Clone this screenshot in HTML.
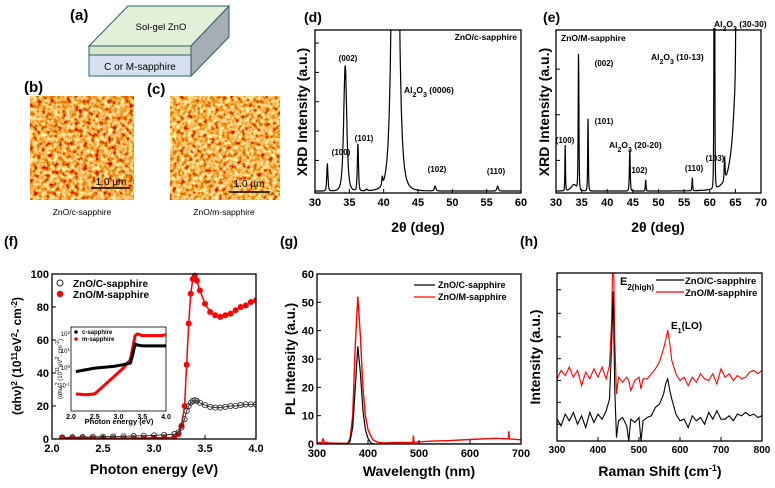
<!DOCTYPE html>
<html><head><meta charset="utf-8"><style>
body{margin:0;background:#fff}
svg{display:block;font-family:"Liberation Sans",Arial,sans-serif;font-weight:bold}
</style></head><body>
<svg id="fig" width="775" height="488" viewBox="0 0 775 488">
<defs>
<filter id="afm" x="0" y="0" width="100%" height="100%">
<feTurbulence type="fractalNoise" baseFrequency="0.24" numOctaves="2" seed="3"/>
<feColorMatrix type="matrix" values="1.1 0 0 0 0.4  1.9 0 0 0 -0.52  1.2 0 0 0 -0.52  0 0 0 0 1"/>
</filter>
<filter id="afm2" x="0" y="0" width="100%" height="100%">
<feTurbulence type="fractalNoise" baseFrequency="0.26" numOctaves="2" seed="9"/>
<feColorMatrix type="matrix" values="1.1 0 0 0 0.42  1.9 0 0 0 -0.48  1.2 0 0 0 -0.5  0 0 0 0 1"/>
</filter>
</defs>
<g>
<text x="70" y="20" font-size="15">(a)</text>
<polygon points="89,46 191,46 229,6 128,6" fill="#e2efd9" stroke="#2e5f6e" stroke-width="1"/>
<polygon points="89,46 191,46 191,55 89,55" fill="#d7e6cc" stroke="#2e5f6e" stroke-width="1"/>
<polygon points="89,55 191,55 191,76 89,76" fill="#d6e0ee" stroke="#2e5f6e" stroke-width="1"/>
<polygon points="191,46 229,6 229,37 191,76" fill="#a7adb5" stroke="#2e5f6e" stroke-width="1"/>
<text x="161" y="30" font-size="9.5" text-anchor="middle" font-weight="normal">Sol-gel ZnO</text>
<text x="140" y="70" font-size="10" text-anchor="middle" font-weight="normal">C or M-sapphire</text>
</g>
<g>
<text x="24" y="92" font-size="15">(b)</text>
<rect x="30" y="96" width="104" height="104" filter="url(#afm)"/>
<line x1="91" y1="188" x2="130" y2="188" stroke="#000" stroke-width="1.5"/>
<text x="111" y="185" font-size="10" text-anchor="middle" font-weight="normal">1.0 µm</text>
<text x="82" y="215" font-size="8.5" text-anchor="middle" font-weight="normal">ZnO/c-sapphire</text>
</g>
<g>
<text x="147" y="94" font-size="15">(c)</text>
<rect x="170" y="96" width="110" height="104" filter="url(#afm2)"/>
<line x1="229" y1="192" x2="270" y2="192" stroke="#000" stroke-width="1.5"/>
<text x="249" y="187" font-size="10" text-anchor="middle" font-weight="normal">1.0 µm</text>
<text x="224" y="215" font-size="8.5" text-anchor="middle" font-weight="normal">ZnO/m-sapphire</text>
</g>
<text x="304" y="22" font-size="14">(d)</text>
<text x="543" y="22" font-size="14">(e)</text>
<text x="4" y="246" font-size="14">(f)</text>
<text x="280" y="246" font-size="14">(g)</text>
<text x="520" y="246" font-size="14">(h)</text>
</svg>
<script>
// ---- data ----
const dPeakPos=[31.8,34.4,36.25,37.5,39.8,41.7,47.5,56.6];
const dPeakH=[0.17,0.77,0.29,0.01,0.05,4.0,0.03,0.03];
const dPeakW=[0.15,0.4,0.15,0.2,0.12,0.65,0.2,0.2];
const ePeakPos=[31.8,33.5,34.4,36.25,44.4,47.5,56.6,60.9,62.9,65.1,66.6,68.6,69.9];
const ePeakH=[0.28,0.04,0.83,0.45,0.25,0.07,0.08,3.0,0.14,0.35,3.0,6.0,3.0];
const ePeakW=[0.1,1.0,0.12,0.12,0.15,0.12,0.12,0.1,0.15,0.1,1.5,1.2,0.1];
const fX=[2.1,2.2,2.3,2.4,2.5,2.6,2.7,2.8,2.9,3.0,3.1,3.2,3.24,3.27,3.3,3.32,3.34,3.36,3.38,3.4,3.42,3.45,3.5,3.55,3.6,3.65,3.7,3.75,3.8,3.85,3.9,3.95,4.0];
const fC=[1,1.1,1.2,1.3,1.4,1.5,1.6,1.8,2,2.2,2.5,3,4,7,12,17,20,22,23,23.5,23,22,20.5,19.5,19,19,19.5,20,20,20.5,21,21,21];
const fM=[0.5,0.5,0.5,0.5,0.5,0.5,0.5,0.6,0.6,0.7,0.8,1,3,8,20,45,70,88,97,99,96,90,82,77,75,74,75,76,78,80,81,83,84];
const inX=[2.1,2.3,2.5,2.7,2.9,3.1,3.25,3.3,3.35,3.4,3.5,3.7,3.9,4.0];
const inC=[-0.2,-0.1,0,0.05,0.1,0.2,0.3,0.8,1.4,1.35,1.3,1.3,1.3,1.3];
const inM=[-1.5,-1.55,-1.5,-1.0,-0.5,0,0.5,1.2,1.9,2.0,1.9,1.9,1.9,1.95];
const gX=[300,310,312,314,330,360,365,370,375,380,385,390,395,400,405,410,415,420,430,450,488,489,490,520,560,600,650,675,676,677,700];
const gC=[0,0,0,0,0,0,1,6,20,34.5,25,12,5,2,0.5,0,0,0,0,0,0,0,0,0,0,0,0,0,0,0,0];
const gM=[0.5,0.5,2,0.5,0.3,0.2,2,10,35,52,38,20,10,5,3,1.5,1,0.6,0.4,0.5,0.6,3,0.6,1,1.2,1.6,2,1.8,4.5,1.8,1.5];
const hX=[300,310,320,330,340,350,360,370,380,390,400,410,420,428,433,437,441,445,450,460,470,475,480,490,500,505,510,520,530,540,550,560,565,570,575,580,590,600,610,620,630,640,650,660,670,680,690,700,710,720,730,740,750,760,770,780,790,800];
const hC=[13,9,16,12,17,10,15,8,17,11,16,13,18,25,55,89,30,2,12,14,9,0,13,11,14,0,12,14,15,20,22,28,34,37,30,25,16,12,13,8,15,12,14,10,17,13,18,13,13,15,12,16,15,17,15,16,14,15];
const hM=[37,42,39,44,38,42,33,41,37,43,38,44,37,45,70,120,60,28,38,35,38,36,30,36,38,31,37,37,40,43,47,55,60,66,58,48,40,36,38,33,38,35,40,37,36,40,34,43,38,40,36,39,37,38,41,42,40,42];
const dTicks=[30,35,40,45,50,55,60];
const eTicks=[30,35,40,45,50,55,60,65,70];
const fYTicks=[0,20,40,60,80,100];
const fXTicks=[2.0,2.5,3.0,3.5,4.0];
const gYTicks=[0,10,20,30,40,50,60];
const gXTicks=[300,400,500,600,700];
const hXTicks=[300,400,500,600,700,800];

const NS="http://www.w3.org/2000/svg";
const svg=document.getElementById('fig');
function el(tag,attrs,parent,txt){const e=document.createElementNS(NS,tag);for(const k in attrs)e.setAttribute(k,attrs[k]);if(txt!==undefined)e.textContent=txt;(parent||svg).appendChild(e);return e;}
function lin(a,b,c,d){return v=>c+(v-a)/(b-a)*(d-c);}
function clipRect(id,x0,y0,x1,y1){const cp=el('clipPath',{id:id});el('rect',{x:x0,y:y0,width:x1-x0,height:y1-y0},cp);}
function poly(xs,ys,sx,sy,color,w,clip,name){const p=xs.map((x,i)=>sx(x).toFixed(1)+','+sy(ys[i]).toFixed(1)).join(' ');
 const e=el('polyline',{points:p,fill:'none',stroke:color,'stroke-width':w,'clip-path':'url(#'+clip+')'});
 
 return e;}
function frame(x0,y0,x1,y1,name){const r=el('rect',{x:x0,y:y0,width:x1-x0,height:y1-y0,fill:'none',stroke:'#000','stroke-width':1.3});
 
 }
function xticks(ticks,sx,y1,fs,fmt,name){ticks.forEach(t=>{el('line',{x1:sx(t),x2:sx(t),y1:y1,y2:y1-4,stroke:'#000'});
 const tx=el('text',{x:sx(t),y:y1+fs+2,'font-size':fs,'text-anchor':'middle'},svg,fmt?fmt(t):t);
 
 });}
function yticks(ticks,sy,x0,fs,name){ticks.forEach(t=>{el('line',{x1:x0,x2:x0+4,y1:sy(t),y2:sy(t),stroke:'#000'});
 const tx=el('text',{x:x0-3,y:sy(t)+fs*0.36,'font-size':fs,'text-anchor':'end'},svg,t);
 
 });}
function label(x,y,txt,fs,rot,name,anchor){const t=el('text',{x:x,y:y,'font-size':fs,'text-anchor':anchor||'middle',transform:rot?'rotate(-90 '+x+' '+y+')':''},svg);
 t.innerHTML=txt;
 
 return t;}
function peaks(pos,h,w,x){let s=0.012;for(let i=0;i<pos.length;i++){const d=(x-pos[i])/w[i];const q=1+d*d;s+=h[i]/(q*q);}return s;}
const AL='Al<tspan baseline-shift="sub" font-size="7">2</tspan>O<tspan baseline-shift="sub" font-size="7">3</tspan>';

// ---- (d) ----
(function(){const X0=315,X1=521,Y0=30,Y1=193;const sx=lin(30,60,X0,X1),sy=lin(0,1,Y1,Y0);
clipRect('cd',X0,Y0,X1,Y1);const xs=[],ys=[];for(let x=30;x<=60;x+=0.04){xs.push(x);ys.push(peaks(dPeakPos,dPeakH,dPeakW,x));}
poly(xs,ys,sx,sy,'#000',1.2,'cd','xrd-c-sapphire-line');frame(X0,Y0,X1,Y1,'plot-frame-d');
xticks(dTicks,sx,Y1,11,null,'x-tick-d');[0.2,0.38,0.56,0.74,0.92].forEach(v=>el('line',{x1:X0,x2:X0+4,y1:sy(v),y2:sy(v),stroke:'#000'}));
label(418,232,'2θ (deg)',14,false,'x-axis-title-d');label(307,112,'XRD Intensity (a.u.)',14,true,'y-axis-title-d');
label(517,40,'ZnO/c-sapphire',8.5,false,'annotation-d','end');
label(341,155,'(100)',8,false,'peak-label-100');label(348,61,'(002)',8,false,'peak-label-002');label(364,141,'(101)',8,false,'peak-label-101');
label(404,93,AL+' (0006)',8.5,false,'peak-label-al2o3','start');
label(437,172,'(102)',8,false,'peak-label-102');label(496,174,'(110)',8,false,'peak-label-110');})();

// ---- (e) ----
(function(){const X0=556,X1=761,Y0=30,Y1=193;const sx=lin(30,70,X0,X1),sy=lin(0,1,Y1,Y0);
clipRect('ce',X0,Y0-2,X1,Y1);const xs=[],ys=[];for(let x=30;x<=70;x+=0.04){xs.push(x);ys.push(peaks(ePeakPos,ePeakH,ePeakW,x));}
poly(xs,ys,sx,sy,'#000',1.2,'ce','xrd-m-sapphire-line');frame(X0,Y0,X1,Y1,'plot-frame-e');
xticks(eTicks,sx,Y1,11,null,'x-tick-e');[0.2,0.48,0.76].forEach(v=>el('line',{x1:X0,x2:X0+4,y1:sy(v),y2:sy(v),stroke:'#000'}));
label(658,232,'2θ (deg)',14,false,'x-axis-title-e');label(549,112,'XRD Intensity (a.u.)',14,true,'y-axis-title-e');
label(561,41,'ZnO/M-sapphire',8.5,false,'annotation-e','start');
label(565,143,'(100)',8,false,'peak-label-100-e');label(604,66,'(002)',8,false,'peak-label-002-e');label(604,124,'(101)',8,false,'peak-label-101-e');
label(609,148,AL+' (20-20)',8.5,false,'peak-label-al2o3-2020','start');
label(638,173,'(102)',8,false,'peak-label-102-e');label(694,171,'(110)',8,false,'peak-label-110-e');label(715,161,'(103)',8,false,'peak-label-103-e');
label(651,60,AL+' (10-13)',8.5,false,'peak-label-al2o3-1013','start');
label(714,27,AL+' (30-30)',8.5,false,'peak-label-al2o3-3030','start');})();

// ---- (f) ----
(function(){const X0=52,X1=256,Y0=274,Y1=439;const sx=lin(2,4,X0,X1),sy=lin(0,100,Y1,Y0);
clipRect('cf',X0,Y0-4,X1,Y1);
poly(fX,fM,sx,sy,'#f00',1.5,'cf','absorption-m-line');
fX.forEach((x,i)=>{const c=el('circle',{cx:sx(x),cy:sy(fM[i]),r:3,fill:'#f00','clip-path':'url(#cf)'});
 
 });
poly(fX,fC,sx,sy,'#333',1,'cf','absorption-c-line');
fX.forEach((x,i)=>{const c=el('circle',{cx:sx(x),cy:sy(fC[i]),r:2.6,fill:'none',stroke:'#222','stroke-width':0.8,'clip-path':'url(#cf)'});
 
 });
frame(X0,Y0,X1,Y1,'plot-frame-f');
xticks(fXTicks,sx,Y1,11,t=>t.toFixed(1),'x-tick-f');yticks(fYTicks,sy,X0,11,'y-tick-f');
label(154,474,'Photon energy (eV)',14,false,'x-axis-title-f');
label(21,356,'(αhν)<tspan baseline-shift="super" font-size="8">2</tspan> (10<tspan baseline-shift="super" font-size="8">11</tspan>eV<tspan baseline-shift="super" font-size="8">2</tspan>- cm<tspan baseline-shift="super" font-size="8">-2</tspan>)',12,true,'y-axis-title-f');
el('circle',{cx:60,cy:283,r:3,fill:'none',stroke:'#222'});label(73,287,'ZnO/C-sapphire',10,false,'legend-entry-c','start');
el('circle',{cx:60,cy:294,r:3.2,fill:'#f00'});label(73,298,'ZnO/M-sapphire',10,false,'legend-entry-m','start');
const I0=71,I1=166,J0=327,J1=411;const ix=lin(2,4,I0,I1),iy=lin(-2.5,2.4,J1,J0);
el('rect',{x:I0,y:J0,width:I1-I0,height:J1-J0,fill:'#fff',stroke:'#000','stroke-width':0.8});
clipRect('ci',I0,J0,I1,J1);
poly(inX,inM,ix,iy,'#f00',3,'ci','inset-m-line');poly(inX,inC,ix,iy,'#000',3,'ci','inset-c-line');
[2.0,2.5,3.0,3.5,4.0].forEach(t=>el('text',{x:ix(t),y:J1+8,'font-size':7,'text-anchor':'middle'},svg,t.toFixed(1)));
[-1,0,1,2].forEach(t=>{el('text',{x:I0-1,y:iy(t)+2,'font-size':6,'text-anchor':'end','font-weight':'normal'},svg,'10').innerHTML='10<tspan baseline-shift="super" font-size="4.5">'+t+'</tspan>';});
label(119,424,'Photon energy (eV)',7.5,false,'inset-x-title');
label(62,369,'(αhν)<tspan baseline-shift="super" font-size="5">2</tspan> (10<tspan baseline-shift="super" font-size="5">11</tspan>eV<tspan baseline-shift="super" font-size="5">2</tspan>. cm<tspan baseline-shift="super" font-size="5">-2</tspan>)',6,true,'inset-y-title').setAttribute('font-weight','normal');
el('circle',{cx:76,cy:332,r:1.8,fill:'#000'});label(82,334,'c-sapphire',6,false,'inset-legend-c','start');
el('circle',{cx:76,cy:339,r:1.8,fill:'#f00'});label(82,341,'m-sapphire',6,false,'inset-legend-m','start');})();

// ---- (g) ----
(function(){const X0=317,X1=521,Y0=274,Y1=444;const sx=lin(300,700,X0,X1),sy=lin(0,60,Y1,Y0);
clipRect('cg',X0,Y0,X1,Y1);poly(gX,gM,sx,sy,'#f00',1.4,'cg','pl-m-line');poly(gX,gC,sx,sy,'#000',1.2,'cg','pl-c-line');
frame(X0,Y0,X1,Y1,'plot-frame-g');xticks(gXTicks,sx,Y1,11,null,'x-tick-g');yticks(gYTicks,sy,X0,11,'y-tick-g');
label(419,476,'Wavelength (nm)',14,false,'x-axis-title-g');label(295,359,'PL Intensity (a.u.)',13.5,true,'y-axis-title-g');
el('line',{x1:414,x2:435,y1:285,y2:285,stroke:'#000','stroke-width':1.3});label(438,288,'ZnO/C-sapphire',9,false,'legend-entry-c-g','start');
el('line',{x1:414,x2:435,y1:297,y2:297,stroke:'#f00','stroke-width':1.3});label(438,300,'ZnO/M-sapphire',9,false,'legend-entry-m-g','start');})();

// ---- (h) ----
(function(){const X0=557,X1=762,Y0=273,Y1=441;const sx=lin(300,800,X0,X1),sy=lin(0,100,Y1,Y0);
clipRect('ch',X0,Y0,X1,Y1);poly(hX,hM,sx,sy,'#f00',1.1,'ch','raman-m-line');poly(hX,hC,sx,sy,'#000',1.1,'ch','raman-c-line');
frame(X0,Y0,X1,Y1,'plot-frame-h');xticks(hXTicks,sx,Y1,10,null,'x-tick-h');
[10,23,36,49,62,76,90].forEach(v=>el('line',{x1:X0,x2:X0+4,y1:sy(v),y2:sy(v),stroke:'#000'}));
label(660,476,'Raman Shift (cm<tspan baseline-shift="super" font-size="9">-1</tspan>)',14,false,'x-axis-title-h');
label(540,357,'Intensity (a.u.)',14,true,'y-axis-title-h');
label(620,285,'E<tspan baseline-shift="sub" font-size="8">2(high)</tspan>',11,false,'peak-label-e2','start');
label(671,329,'E<tspan baseline-shift="sub" font-size="7">1</tspan>(LO)',10,false,'peak-label-e1','start');
el('line',{x1:656,x2:684,y1:280,y2:280,stroke:'#000','stroke-width':1.2});label(685,284,'ZnO/C-sapphire',9.5,false,'legend-entry-c-h','start');
el('line',{x1:656,x2:684,y1:292,y2:292,stroke:'#f00','stroke-width':1.2});label(685,296,'ZnO/M-sapphire',9.5,false,'legend-entry-m-h','start');})();
</script>
</body></html>
